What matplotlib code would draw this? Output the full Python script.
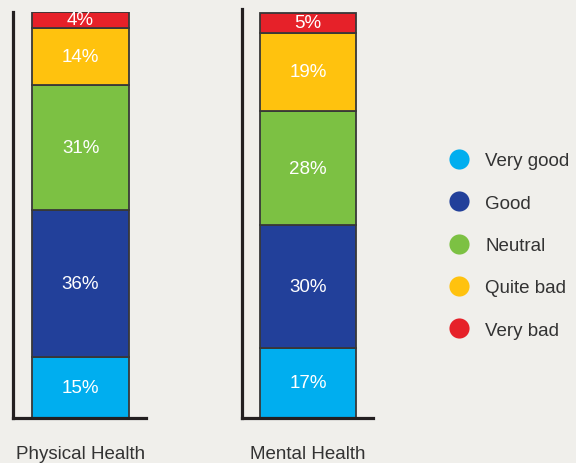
import matplotlib
matplotlib.use("Agg")
import matplotlib.pyplot as plt
from matplotlib.lines import Line2D

plt.rcParams["font.family"] = ["Liberation Sans", "DejaVu Sans"]

# data, bottom -> top of each stack
categories = ["Very good", "Good", "Neutral", "Quite bad", "Very bad"]
groups = ["Physical Health", "Mental Health"]
physical = [15, 36, 31, 14, 4]
mental = [17, 30, 28, 19, 5]
colors = ["#00aeef", "#22409a", "#7cc143", "#ffc20e", "#e62129"]

BG = "#f0efeb"
INK = "#231f20"
W, H = 576, 464

fig = plt.figure(figsize=(W / 100, H / 100), dpi=100, facecolor=BG)


def px_axes(x0, y0, x1, y1):
    """Axes placed by pixel box (origin top-left)."""
    return fig.add_axes([x0 / W, 1 - y1 / H, (x1 - x0) / W, (y1 - y0) / H])


# pixel boxes of each panel (left, top, right, bottom)
boxes = [(13, 12.5, 146, 418.5), (241.5, 9.5, 372.5, 418.5)]

for box, name, vals in zip(boxes, groups, [physical, mental]):
    ax = px_axes(*box)
    ax.set_facecolor("none")
    bottom = 0
    for v, c in zip(vals, colors):
        ax.bar(0, v, width=1.0, bottom=bottom, color=c,
               edgecolor="#383838", linewidth=1.3, zorder=2)
        ax.text(0, bottom + v / 2, f"{v}%", color="white", fontsize=13.5,
                ha="center", va="center", zorder=3)
        bottom += v
    ax.set_xlim(-0.695, 0.673)
    ax.set_ylim(0, 100)
    for s in ["top", "right"]:
        ax.spines[s].set_visible(False)
    for s in ["left", "bottom"]:
        ax.spines[s].set_linewidth(2.3)
        ax.spines[s].set_color(INK)
        ax.spines[s].set_zorder(4)
    ax.set_xticks([])
    ax.set_yticks([])
    label_y = -(459 - box[3]) / (box[3] - box[1])
    ax.text(0, label_y, name, transform=ax.get_xaxis_transform(),
            ha="center", va="baseline", fontsize=13.5, color="#333333")

handles = [Line2D([], [], marker="o", ls="", markersize=14.5,
                  markerfacecolor=c, markeredgecolor="none") for c in colors]
fig.legend(handles, categories, loc="center left",
           bbox_to_anchor=(449.6 / W, 1 - 246.5 / H), frameon=False,
           fontsize=13.5, handlelength=1.0, handletextpad=0.9,
           labelspacing=1.35, borderpad=0, borderaxespad=0,
           labelcolor="#333333")

fig.savefig("out.png", dpi=100, facecolor=BG)
